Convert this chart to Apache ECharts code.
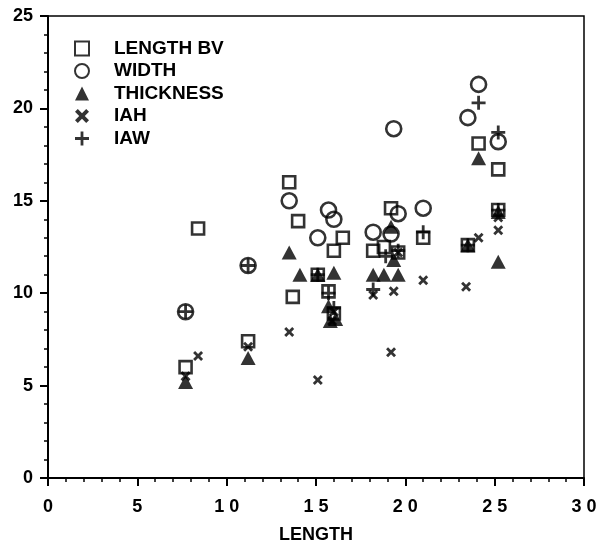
<!DOCTYPE html>
<html>
<head>
<meta charset="utf-8">
<script src="https://cdn.jsdelivr.net/npm/echarts@6/dist/echarts.min.js"></script>
<style>html,body{margin:0;padding:0;background:#fff}#c{width:599px;height:544px}</style>
</head>
<body>
<div id="c"></div>
<script>
const xTicks = [0, 5, 10, 15, 20, 25, 30];
const yTicks = [0, 5, 10, 15, 20, 25];
const seriesNames = ['LENGTH BV', 'WIDTH', 'THICKNESS', 'IAH', 'IAW'];
const xLabel = 'LENGTH';

const lengthBV = [[7.7,6.0],[8.4,13.5],[11.2,7.4],[13.5,16.0],[13.7,9.8],[14.0,13.9],[15.1,11.0],[15.7,10.1],[16.0,8.9],[16.0,12.3],[16.5,13.0],[18.2,12.3],[18.8,12.5],[19.2,14.6],[19.6,12.2],[21.0,13.0],[23.5,12.6],[24.1,18.1],[25.2,16.7],[25.2,14.5]];
const width = [[7.7,9.0],[11.2,11.5],[13.5,15.0],[15.1,13.0],[15.7,14.5],[16.0,14.0],[18.2,13.3],[19.2,13.2],[19.35,18.9],[19.6,14.3],[21.0,14.6],[23.5,19.5],[24.1,21.3],[25.2,18.2]];
const thickness = [[7.7,5.2],[11.2,6.5],[13.5,12.2],[14.1,11.0],[15.1,11.0],[15.7,9.3],[16.0,11.1],[15.8,8.5],[16.1,8.6],[18.2,11.0],[18.8,11.0],[19.2,13.6],[19.35,11.8],[19.6,11.0],[23.5,12.6],[24.1,17.3],[25.2,11.7],[25.2,14.4]];
const iah = [[7.7,5.5],[8.4,6.6],[11.2,7.1],[13.5,7.9],[15.1,5.3],[15.9,8.5],[16.0,9.0],[18.2,9.9],[19.2,6.8],[19.35,10.1],[19.6,12.2],[21.0,10.7],[23.4,10.35],[24.1,13.0],[25.2,14.1],[25.2,13.4]];
const iaw = [[7.7,9.0],[11.2,11.5],[15.1,11.0],[15.7,10.0],[16.0,9.2],[18.2,10.2],[18.9,12.0],[19.6,12.3],[21.0,13.3],[23.5,12.6],[24.1,20.3],[25.2,18.7],[25.2,14.5]];

const X_PATH = 'path://M0,2L2,0L5,3L8,0L10,2L7,5L10,8L8,10L5,7L2,10L0,8L3,5Z';
const PLUS_PATH = 'path://M4,0H6V4H10V6H6V10H4V6H0V4H4Z';
const FONT = 'Liberation Sans';

const chart = echarts.init(document.getElementById('c'), null, {renderer: 'canvas'});
const hollow = {color: 'rgba(0,0,0,0)', borderColor: '#000', borderWidth: 2.6};
chart.setOption({
  animation: false,
  backgroundColor: '#fff',
  textStyle: {fontFamily: FONT},
  grid: {left: 48, right: 15, top: 16, bottom: 66, containLabel: false, outerBoundsMode: 'none', show: true, borderColor: '#000', borderWidth: 1.5, backgroundColor: 'transparent'},
  legend: {
    orient: 'vertical', left: 69, top: 34, itemWidth: 14, itemHeight: 14, itemGap: 3.5,
    textStyle: {color: '#000', fontSize: 19, fontWeight: 'bold', fontFamily: FONT, lineHeight: 18, padding: [0, 0, 0, 20]},
    data: seriesNames
  },
  xAxis: {
    type: 'value', min: xTicks[0], max: xTicks[xTicks.length - 1], interval: 5,
    name: xLabel, nameLocation: 'middle', nameGap: 48,
    nameTextStyle: {color: '#000', fontSize: 18, fontWeight: 'bold', fontFamily: FONT},
    axisLine: {lineStyle: {color: '#000', width: 2}},
    axisTick: {length: 8, lineStyle: {color: '#000', width: 2}},
    minorTick: {show: true, splitNumber: 5, length: 4, lineStyle: {color: '#000', width: 1.5}},
    splitLine: {show: false},
    axisLabel: {color: '#000', fontSize: 18, fontWeight: 'bold', margin: 20, formatter: v => String(v).split('').join(' ')}
  },
  yAxis: {
    type: 'value', min: yTicks[0], max: yTicks[yTicks.length - 1], interval: 5,
    axisLine: {lineStyle: {color: '#000', width: 2}},
    axisTick: {length: 8, lineStyle: {color: '#000', width: 2}},
    minorTick: {show: true, splitNumber: 5, length: 4, lineStyle: {color: '#000', width: 1.5}},
    splitLine: {show: false},
    axisLabel: {color: '#000', fontSize: 18, fontWeight: 'bold', margin: 15}
  },
  series: [
    {name: seriesNames[0], type: 'scatter', data: lengthBV, symbol: 'rect', symbolSize: 12, itemStyle: hollow, z: 2},
    {name: seriesNames[1], type: 'scatter', data: width, symbol: 'circle', symbolSize: 15, itemStyle: hollow, z: 2},
    {name: seriesNames[2], type: 'scatter', data: thickness, symbol: 'triangle', symbolSize: [15, 14], itemStyle: {color: '#000'}, z: 3},
    {name: seriesNames[3], type: 'scatter', data: iah, symbol: X_PATH, symbolSize: 10, itemStyle: {color: '#000'}, z: 4},
    {name: seriesNames[4], type: 'scatter', data: iaw, symbol: PLUS_PATH, symbolSize: 14, itemStyle: {color: '#000'}, z: 4}
  ]
});
</script>
</body>
</html>
